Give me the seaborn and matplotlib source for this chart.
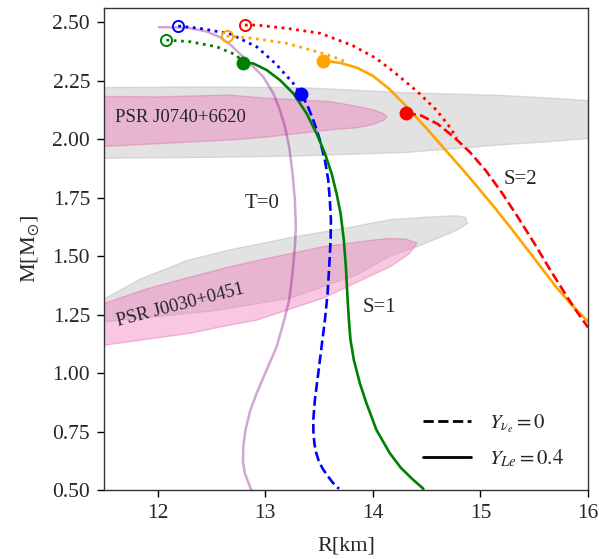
import matplotlib
matplotlib.use('Agg')
import matplotlib.pyplot as plt
from matplotlib.lines import Line2D
from matplotlib.ticker import FormatStrFormatter
import seaborn as sns

# ---- data (R in km, M in solar masses) ----
# T=0 (cold) sequence
T0_R = [12.01, 12.27, 12.45, 12.58, 12.67, 12.76, 12.857, 12.981, 13.074, 13.136, 13.182,
        13.222, 13.253, 13.275, 13.284, 13.275, 13.253, 13.222, 13.167, 13.105, 13.012,
        12.919, 12.860, 12.817, 12.796, 12.792, 12.81, 12.857, 12.87]
T0_M = [2.478, 2.476, 2.46, 2.435, 2.405, 2.366, 2.323, 2.266, 2.195, 2.124, 2.053,
        1.967, 1.853, 1.739, 1.625, 1.54, 1.426, 1.312, 1.212, 1.112, 1.013,
        0.913, 0.84, 0.76, 0.69, 0.62, 0.571, 0.514, 0.50]

# S=1, Y_nu=0 (blue)
S1nu_unst_R = [12.19, 12.39, 12.67, 12.92, 13.10, 13.26, 13.33]
S1nu_unst_M = [2.483, 2.473, 2.45, 2.394, 2.32, 2.238, 2.192]
S1nu_R = [13.331, 13.385, 13.43, 13.47, 13.507, 13.554, 13.585, 13.600, 13.610, 13.607,
          13.594, 13.579, 13.554, 13.523, 13.492, 13.461, 13.446, 13.447, 13.456, 13.472,
          13.50, 13.535, 13.58, 13.63, 13.685]
S1nu_M = [2.192, 2.15, 2.10, 2.05, 1.996, 1.910, 1.825, 1.739, 1.654, 1.568,
          1.454, 1.340, 1.226, 1.112, 0.998, 0.885, 0.80, 0.75, 0.70, 0.66,
          0.62, 0.59, 0.56, 0.53, 0.505]

# S=1, Y_Le=0.4 (green)
S1le_unst_R = [12.08, 12.30, 12.55, 12.73, 12.795]
S1le_unst_M = [2.423, 2.416, 2.394, 2.359, 2.326]
S1le_R = [12.795, 12.888, 13.012, 13.136, 13.260, 13.383, 13.476, 13.554, 13.616, 13.662,
          13.700, 13.730, 13.749, 13.762, 13.777, 13.792, 13.823, 13.879, 13.941, 14.034,
          14.158, 14.26, 14.36, 14.47]
S1le_M = [2.326, 2.323, 2.295, 2.252, 2.195, 2.110, 2.024, 1.939, 1.853, 1.768,
          1.682, 1.568, 1.454, 1.340, 1.226, 1.141, 1.056, 0.956, 0.870, 0.756,
          0.657, 0.595, 0.55, 0.505]

# S=2, Y_Le=0.4 (orange)
S2le_unst_R = [12.64, 12.89, 13.20, 13.48, 13.63, 13.76]
S2le_unst_M = [2.44, 2.43, 2.409, 2.373, 2.352, 2.328]
S2le_R = [13.54, 13.70, 13.85, 14.0, 14.15, 14.3, 14.5, 14.7, 14.9, 15.1, 15.3, 15.5,
          15.7, 15.85, 16.0]
S2le_M = [2.335, 2.325, 2.305, 2.27, 2.215, 2.145, 2.045, 1.94, 1.835, 1.725, 1.61, 1.49,
          1.37, 1.29, 1.22]

# S=2, Y_nu=0 (red)
S2nu_unst_R = [12.81, 12.92, 13.20, 13.51, 13.81, 14.03, 14.20, 14.42, 14.59, 14.70, 14.78]
S2nu_unst_M = [2.487, 2.487, 2.473, 2.452, 2.40, 2.345, 2.285, 2.20, 2.124, 2.06, 2.005]
S2nu_R = [14.31, 14.45, 14.6, 14.75, 14.9, 15.05, 15.2, 15.35, 15.5, 15.65, 15.8, 15.9, 16.0]
S2nu_M = [2.112, 2.10, 2.065, 2.01, 1.945, 1.865, 1.77, 1.665, 1.555, 1.44, 1.33, 1.26, 1.195]

# maximum-mass (open) and onset (filled) points
peak_R = [12.19, 12.08, 12.64, 12.81]
peak_M = [2.483, 2.423, 2.44, 2.487]
peak_c = ['blue', 'green', 'orange', 'red']
onset_R = [13.331, 12.795, 13.54, 14.31]
onset_M = [2.192, 2.326, 2.335, 2.112]
onset_c = ['blue', 'green', 'orange', 'red']

# NICER constraints
J0740_gray_R = [11.3, 12.5, 13.3, 14.3, 15.2, 15.6, 16.2]
J0740_gray_hi = [2.222, 2.224, 2.222, 2.200, 2.188, 2.178, 2.160]
J0740_gray_lo = [1.920, 1.924, 1.930, 1.945, 1.978, 1.990, 2.012]
J0740_pink_R = [11.3, 11.5, 12.0, 12.67, 13.0, 13.6, 13.85, 14.0, 14.1, 14.13,
                14.1, 14.0, 13.85, 13.6, 13.0, 12.67, 12.0, 11.5, 11.3]
J0740_pink_M = [2.182, 2.182, 2.18, 2.188, 2.175, 2.16, 2.14, 2.125, 2.108, 2.095,
                2.08, 2.062, 2.048, 2.039, 2.008, 1.996, 1.98, 1.968, 1.964]
J0030_gray_R = [11.3, 11.52, 11.83, 12.27, 12.67, 13.23, 13.85, 14.16, 14.47, 14.78, 14.86,
                14.88, 14.78, 14.41, 14.16, 13.85, 13.23, 12.5, 11.52, 11.3]
J0030_gray_M = [1.28, 1.32, 1.40, 1.48, 1.526, 1.578, 1.628, 1.655, 1.665, 1.672, 1.665,
                1.64, 1.61, 1.54, 1.50, 1.42, 1.32, 1.265, 1.22, 1.21]
J0030_pink_R = [11.3, 11.52, 11.9, 12.30, 12.67, 12.92, 13.54, 14.0, 14.16, 14.31, 14.41, 14.34,
                14.16, 14.0, 13.54, 12.92, 12.67, 12.30, 11.52, 11.3]
J0030_pink_M = [1.29, 1.30, 1.36, 1.41, 1.454, 1.48, 1.54, 1.568, 1.575, 1.572, 1.555, 1.51,
                1.454, 1.42, 1.32, 1.226, 1.205, 1.17, 1.12, 1.11]

sns.set_style('ticks')
plt.rcParams['font.family'] = ['Liberation Serif', 'DejaVu Serif']
plt.rcParams['mathtext.fontset'] = 'stix'

fig = plt.figure(figsize=(5.99, 5.59), dpi=100)
ax = fig.add_axes([0.1736, 0.1234, 0.808, 0.8623])

gray_kw = dict(facecolor='#d3d3d3', edgecolor='#c8c8c8', alpha=0.65, lw=1, zorder=1)
pink_kw = dict(facecolor='#f06eb4', edgecolor='#e060a8', alpha=0.38, lw=1, zorder=2)
ax.fill_between(J0740_gray_R, J0740_gray_hi, J0740_gray_lo, **gray_kw)
ax.fill(J0740_pink_R, J0740_pink_M, **pink_kw)
ax.fill(J0030_gray_R, J0030_gray_M, **gray_kw)
ax.fill(J0030_pink_R, J0030_pink_M, **pink_kw)

line_kw = dict(sort=False, estimator=None, ax=ax, legend=False)
sns.lineplot(x=T0_R, y=T0_M, color='purple', alpha=0.35, lw=1.8, **line_kw)

curves = [
    (S1nu_unst_R, S1nu_unst_M, S1nu_R, S1nu_M, 'blue', '--'),
    (S1le_unst_R, S1le_unst_M, S1le_R, S1le_M, 'green', '-'),
    (S2le_unst_R, S2le_unst_M, S2le_R, S2le_M, 'orange', '-'),
    (S2nu_unst_R, S2nu_unst_M, S2nu_R, S2nu_M, 'red', '--'),
]
for ur, um, sr, sm, c, ls in curves:
    sns.lineplot(x=ur, y=um, color=c, lw=2, linestyle=':', **line_kw)
    sns.lineplot(x=sr, y=sm, color=c, lw=1.9, linestyle=ls, **line_kw)

for r, m, c in zip(peak_R, peak_M, peak_c):
    ax.plot(r, m, 'o', ms=8, mfc='none', mec=c, mew=1.4, zorder=5)
for r, m, c in zip(onset_R, onset_M, onset_c):
    ax.plot(r, m, 'o', ms=9, color=c, zorder=5)

ax.text(11.6, 2.09, 'PSR J0740+6620', fontsize=13.5, va='center', ha='left')
ax.text(12.21, 1.29, 'PSR J0030+0451', fontsize=13.5, va='center', ha='center', rotation=14.5)
ax.text(12.97, 1.726, 'T=0', fontsize=15, va='center', ha='center')
ax.text(14.06, 1.28, 'S=1', fontsize=15, va='center', ha='center')
ax.text(15.37, 1.825, 'S=2', fontsize=15, va='center', ha='center')

handles = [Line2D([], [], color='black', lw=2, linestyle='--'),
           Line2D([], [], color='black', lw=2, linestyle='-')]
ax.legend(handles, [r'$Y_{\nu_e}=0$', r'$Y_{Le}=0.4$'], loc='lower right',
          frameon=False, fontsize=15, handlelength=2.3, handletextpad=0.9,
          labelspacing=0.6, bbox_to_anchor=(0.99, 0.005))

ax.set_xlim(11.5, 16)
ax.set_ylim(0.5, 2.56)
ax.set_xticks([12, 13, 14, 15, 16])
ax.set_yticks([0.5, 0.75, 1.0, 1.25, 1.5, 1.75, 2.0, 2.25, 2.5])
ax.yaxis.set_major_formatter(FormatStrFormatter('%.2f'))
ax.tick_params(labelsize=15.5, length=5, width=1, pad=5, color='black')
for s in ax.spines.values():
    s.set_color('#333333')
    s.set_linewidth(1)
ax.set_xlabel('R[km]', fontsize=16, labelpad=10)
ax.set_ylabel(r'M[M$_{\odot}$]', fontsize=16, labelpad=8)

fig.savefig('out.png', dpi=100)
